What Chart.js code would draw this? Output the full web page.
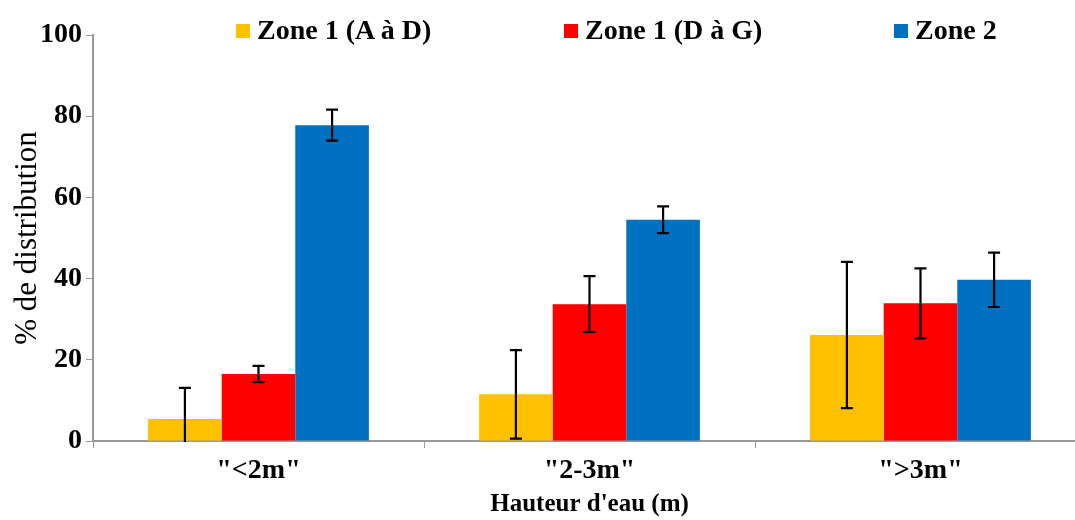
<!DOCTYPE html>
<html>
<head>
<meta charset="utf-8">
<script src="https://cdn.jsdelivr.net/npm/chart.js@4"></script>
<style>
  html, body { margin: 0; padding: 0; background: #fff; overflow: hidden; }
  #wrap { position: relative; width: 1086px; height: 520px; }
  #legend { position: absolute; top: 16px; left: 0; font: bold 28px/28px "Liberation Serif", serif; color: #000; }
  #legend span.item { position: absolute; white-space: nowrap; }
  #legend span.box { display: inline-block; width: 14px; height: 14px; margin-right: 7px; vertical-align: 1px; }
</style>
</head>
<body>
<div id="wrap">
  <canvas id="chart" width="1086" height="520"></canvas>
  <div id="legend"></div>
</div>
<script>
const categories = ['"<2m"', '"2-3m"', '">3m"'];
const seriesNames = ['Zone 1 (A à D)', 'Zone 1 (D à G)', 'Zone 2'];
const zone1AD = [5.4, 11.5, 26.1];
const zone1DG = [16.5, 33.7, 33.9];
const zone2   = [77.8, 54.5, 39.7];
const errAD   = [7.7, 10.9, 18.0];
const errDG   = [2.0, 6.9, 8.6];
const err2    = [3.8, 3.3, 6.7];
const yTicks  = [0, 20, 40, 60, 80, 100];

const colors = ['#FFC000', '#FF0000', '#0070C0'];
const values = [zone1AD, zone1DG, zone2];
const errors = [errAD, errDG, err2];

// légende en HTML
const legendLeft = [236, 564, 894];
const legend = document.getElementById('legend');
seriesNames.forEach((name, i) => {
    const s = document.createElement('span');
    s.className = 'item';
    s.style.left = legendLeft[i] + 'px';
    s.innerHTML = `<span class="box" style="background:${colors[i]}"></span>${name}`;
    legend.appendChild(s);
});

// barres d'erreur
const errorBars = {
    id: 'errorBars',
    afterDatasetsDraw(chart) {
        const ctx = chart.ctx;
        const y = chart.scales.y;
        const area = chart.chartArea;
        ctx.save();
        ctx.beginPath();
        ctx.rect(area.left, area.top, area.right - area.left, area.bottom - area.top + 1);
        ctx.clip();
        ctx.strokeStyle = '#000';
        ctx.lineWidth = 2.2;
        chart.data.datasets.forEach((ds, i) => {
            chart.getDatasetMeta(i).data.forEach((bar, j) => {
                const v = ds.data[j], e = errors[i][j];
                const x = bar.x;
                const yTop = y.getPixelForValue(v + e);
                const yBot = y.getPixelForValue(v - e);
                ctx.beginPath();
                ctx.moveTo(x, yTop); ctx.lineTo(x, yBot);
                ctx.moveTo(x - 6, yTop); ctx.lineTo(x + 6, yTop);
                if (v - e >= 0) { ctx.moveTo(x - 6, yBot); ctx.lineTo(x + 6, yBot); }
                ctx.stroke();
            });
        });
        ctx.restore();
    }
};

new Chart(document.getElementById('chart'), {
    type: 'bar',
    data: {
        labels: categories,
        datasets: seriesNames.map((name, i) => ({
            label: name,
            data: values[i],
            backgroundColor: colors[i],
            categoryPercentage: 0.667,
            barPercentage: 1.0
        }))
    },
    options: {
        responsive: false,
        animation: false,
        layout: { padding: { top: 35, right: 0, left: 0, bottom: 0 } },
        plugins: { legend: { display: false }, tooltip: { enabled: false } },
        scales: {
            x: {
                afterFit: s => { s.height = 79; },
                grid: { drawOnChartArea: false, color: '#999', tickLength: 7, offset: true },
                border: { color: '#999', width: 2 },
                ticks: { color: '#000', font: { family: 'Liberation Serif', size: 28, weight: 'bold' }, padding: 6 },
                title: { display: true, text: "Hauteur d'eau (m)", color: '#000', font: { family: 'Liberation Serif', size: 25, weight: 'bold' }, padding: { top: 0, bottom: 0 } }
            },
            y: {
                min: 0, max: 100,
                afterFit: s => { s.width = 93; },
                afterBuildTicks: s => { s.ticks = yTicks.map(v => ({ value: v })); },
                grid: { drawOnChartArea: false, color: '#999', tickLength: 7 },
                border: { color: '#999', width: 2 },
                ticks: { color: '#000', font: { family: 'Liberation Serif', size: 28, weight: 'bold' }, padding: 4 },
                title: { display: true, text: '% de distribution', color: '#000', font: { family: 'Liberation Serif', size: 31 }, padding: { top: 9, bottom: 0 } }
            }
        }
    },
    plugins: [errorBars]
});
</script>
</body>
</html>
